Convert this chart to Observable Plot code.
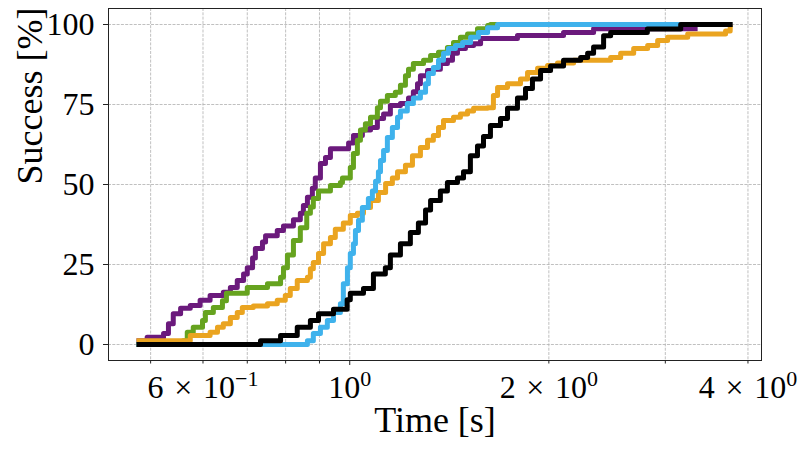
<!DOCTYPE html>
<html><head><meta charset="utf-8">
<script src="https://cdn.jsdelivr.net/npm/d3@7"></script>
<script src="https://cdn.jsdelivr.net/npm/@observablehq/plot@0.6"></script>
<style>body{margin:0;background:#fff}</style>
</head><body><div id="chart"></div>
<script>
// [time (s), success (%)] at each step
const purple = [[0.476,1.2],[0.494,2.3],[0.523,3.4],[0.532,6.5],[0.541,9.6],[0.555,11.3],[0.574,12.2],[0.594,13.8],[0.615,15.3],[0.644,16.3],[0.660,17.8],[0.676,20],[0.691,22],[0.700,24],[0.713,27],[0.720,30],[0.738,32],[0.746,34],[0.777,35.6],[0.794,37],[0.822,39],[0.842,41],[0.851,43.4],[0.863,46],[0.878,48.8],[0.887,52],[0.903,56.6],[0.919,58.4],[0.935,61.2],[0.996,63],[1.013,65.3],[1.045,67],[1.075,67.8],[1.101,70.6],[1.125,72],[1.152,74.7],[1.193,75.3],[1.227,77],[1.248,79],[1.266,81.5],[1.279,84],[1.311,85.6],[1.338,86],[1.371,87.8],[1.405,88.8],[1.430,91],[1.455,92.5],[1.496,93.4],[1.539,94],[1.577,95.6],[1.793,96.6],[2.105,97.5],[2.337,98.7],[3.357,98.7]];
const green = [[0.476,0],[0.560,1.2],[0.568,3.8],[0.580,5.4],[0.599,7.5],[0.605,10],[0.622,11.6],[0.642,13.7],[0.651,16],[0.700,17.8],[0.751,19],[0.786,21],[0.794,24],[0.805,28],[0.822,32.5],[0.842,36.5],[0.861,41],[0.872,43],[0.881,45.6],[0.897,48],[0.935,49.7],[0.968,50.6],[0.975,52],[1.002,55.3],[1.013,59.7],[1.027,63.8],[1.038,67],[1.056,69],[1.075,71],[1.101,74],[1.113,76],[1.140,77.8],[1.172,78.8],[1.193,81],[1.214,84],[1.227,86],[1.248,87.8],[1.293,88.8],[1.325,90.3],[1.362,91.3],[1.405,92.8],[1.435,94.4],[1.470,96],[1.507,97],[1.560,98.7],[1.616,99.7],[1.632,100],[1.708,100]];
const orange = [[0.476,1.2],[0.574,2.8],[0.615,3.8],[0.631,5.4],[0.644,6.5],[0.660,8.4],[0.676,10],[0.688,11.6],[0.715,12],[0.751,12.7],[0.777,13.8],[0.799,15.3],[0.813,17.5],[0.833,20],[0.863,21],[0.872,23.7],[0.881,25.6],[0.897,28.4],[0.913,31.5],[0.935,33.4],[0.951,36],[0.978,38],[1.002,40.3],[1.027,41],[1.049,42.8],[1.075,45],[1.105,47.5],[1.133,50.3],[1.160,52],[1.181,54],[1.214,56],[1.244,59],[1.279,61.6],[1.311,63.8],[1.338,65.3],[1.362,67.8],[1.386,70],[1.435,71],[1.470,72],[1.507,73],[1.539,73.8],[1.616,74],[1.649,77.8],[1.673,80.3],[1.732,81.5],[1.812,83],[1.857,85],[1.923,86.3],[1.991,87.2],[2.061,88],[2.180,88.8],[2.480,89.7],[2.568,91],[2.687,92.5],[2.821,93.4],[2.921,95],[3.024,96],[3.243,97],[3.700,98],[3.760,99],[3.793,99]];
const blue = [[0.476,0],[0.863,1.2],[0.881,3.4],[0.903,5.4],[0.925,7.5],[0.945,10],[0.968,12.7],[0.978,19],[0.992,24],[1.002,28.4],[1.013,31.5],[1.020,35.6],[1.031,38.8],[1.045,42.8],[1.067,45.6],[1.082,48],[1.094,51],[1.105,54],[1.113,57.5],[1.125,60.6],[1.140,64.7],[1.160,67.8],[1.181,71],[1.193,73],[1.222,75.3],[1.248,77],[1.279,78.8],[1.302,81.5],[1.315,84.7],[1.338,86.6],[1.362,88.8],[1.386,91],[1.410,92.5],[1.445,93.4],[1.481,94.4],[1.523,96],[1.565,97.5],[1.616,99],[1.673,100],[3.165,100]];
const black = [[0.476,0],[0.733,1.2],[0.786,2.8],[0.833,5.4],[0.872,7.5],[0.897,9.6],[0.945,11],[0.991,14],[1.002,16],[1.049,17.5],[1.086,22],[1.132,24],[1.152,28],[1.193,31.5],[1.235,35],[1.270,38],[1.302,42],[1.325,45],[1.371,48],[1.405,50.6],[1.455,52],[1.486,54],[1.522,59],[1.560,62],[1.593,65],[1.632,68.4],[1.690,70.6],[1.732,73.8],[1.793,77],[1.844,80],[1.889,83],[1.943,85.6],[2.012,87],[2.105,88.8],[2.234,89.7],[2.289,91],[2.337,93],[2.420,96.5],[2.480,97.5],[2.818,98.6],[3.165,100],[3.793,100]];

const seriesList = [purple, green, orange, blue, black];
const seriesColors = ["#6b1a7c", "#66a31f", "#eaa420", "#3fb2ec", "#000000"];

const xGridTicks = [0.5,0.6,0.7,0.8,0.9,1,2,3,4];
const xMinorTicks = [0.5,0.6,0.7,0.8,0.9,2,3,4];
const xMajorTicks = [1];
const xLabelTicks = {0.6: "6\u2004×\u200410^−1", 1: "10^0", 2: "2\u2004×\u200410^0", 4: "4\u2004×\u200410^0"};
const yTicks = [0,25,50,75,100];

const grid = {stroke: "#b0b0b0", strokeOpacity: 1, strokeWidth: 0.8, strokeDasharray: "3,1.3"};

const lineMarks = seriesList.map((s, i) => Plot.line(s, {
  x: d => d[0], y: d => d[1], curve: "step-after",
  stroke: seriesColors[i], strokeWidth: 5, strokeLinejoin: "round", strokeLinecap: "butt"
}));

const chart = Plot.plot({
  width: 806, height: 452,
  marginLeft: 108, marginRight: 45, marginTop: 8, marginBottom: 92,
  style: {fontFamily: "'Liberation Serif', 'DejaVu Serif', serif", background: "white", color: "black"},
  x: {type: "log", domain: [0.4318, 4.193], label: null},
  y: {domain: [-5, 105], label: null},
  marks: [
    Plot.gridX(xGridTicks, grid),
    Plot.gridY(yTicks, grid),
    ...lineMarks,
    Plot.frame({stroke: "#222", strokeWidth: 1}),
    Plot.axisY(yTicks, {tickSize: 5, tickPadding: 9, fontSize: 32, label: null, stroke: "#222"}),
    Plot.axisX(xMinorTicks, {tickSize: 3.5, tickFormat: () => "", label: null, stroke: "#222"}),
    Plot.axisX(xMajorTicks, {tickSize: 5, tickPadding: 10, fontSize: 32, label: null, tickFormat: d => xLabelTicks[d], stroke: "#222"}),
    Plot.axisX([0.6, 2, 4], {tickSize: 0, tickPadding: 15, fontSize: 32, label: null, tickFormat: d => xLabelTicks[d]}),
    Plot.text(["Time [s]"], {text: d => d, frameAnchor: "bottom", dy: 60, fontSize: 36, lineAnchor: "middle"}),
    Plot.text(["Success [%]"], {text: d => d, frameAnchor: "left", dx: -78, rotate: -90, fontSize: 36, lineAnchor: "middle"})
  ]
});

// render superscripts as tspans
chart.querySelectorAll("text").forEach(t => {
  const s = t.textContent;
  if (s.includes("^")) {
    const [base, sup] = s.split("^");
    t.textContent = "";
    const ns = "http://www.w3.org/2000/svg";
    const a = document.createElementNS(ns, "tspan"); a.textContent = base;
    const b = document.createElementNS(ns, "tspan"); b.textContent = sup;
    b.setAttribute("font-size", "22"); b.setAttribute("dy", "-12");
    t.appendChild(a); t.appendChild(b);
  }
});
document.getElementById("chart").appendChild(chart);
</script></body></html>
